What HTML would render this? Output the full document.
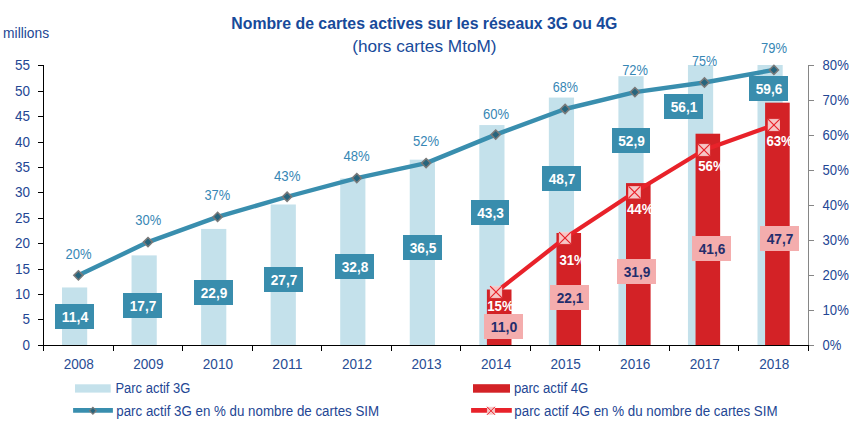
<!DOCTYPE html><html><head><meta charset="utf-8"><style>
html,body{margin:0;padding:0;background:#fff;width:867px;height:427px;overflow:hidden}
svg{display:block;font-family:"Liberation Sans",sans-serif}
</style></head><body>
<svg width="867" height="427" viewBox="0 0 867 427">
<rect width="867" height="427" fill="#fff"/>
<text x="231.3" y="29" font-weight="bold" font-size="16.2" fill="#174a9a" textLength="386.1" lengthAdjust="spacingAndGlyphs">Nombre de cartes actives sur les réseaux 3G ou 4G</text>
<text x="352.2" y="52" font-size="16.4" fill="#174a9a" textLength="144.4" lengthAdjust="spacingAndGlyphs">(hors cartes MtoM)</text>
<text x="3.1" y="38" font-size="14" fill="#234694" textLength="46" lengthAdjust="spacingAndGlyphs">millions</text>
<rect x="62.00" y="287.46" width="25.2" height="58.04" fill="#c4e1eb"/>
<rect x="131.55" y="255.39" width="25.2" height="90.11" fill="#c4e1eb"/>
<rect x="201.10" y="228.92" width="25.2" height="116.58" fill="#c4e1eb"/>
<rect x="270.65" y="204.48" width="25.2" height="141.02" fill="#c4e1eb"/>
<rect x="340.20" y="178.52" width="25.2" height="166.98" fill="#c4e1eb"/>
<rect x="409.75" y="159.68" width="25.2" height="185.82" fill="#c4e1eb"/>
<rect x="479.30" y="125.06" width="25.2" height="220.44" fill="#c4e1eb"/>
<rect x="548.85" y="97.57" width="25.2" height="247.93" fill="#c4e1eb"/>
<rect x="618.40" y="76.19" width="25.2" height="269.31" fill="#c4e1eb"/>
<rect x="687.95" y="65.00" width="25.2" height="280.50" fill="#c4e1eb"/>
<rect x="757.50" y="65.00" width="25.2" height="280.50" fill="#c4e1eb"/>
<rect x="486.90" y="289.50" width="24.6" height="56.00" fill="#d32226"/>
<rect x="556.45" y="232.99" width="24.6" height="112.51" fill="#d32226"/>
<rect x="626.00" y="183.10" width="24.6" height="162.40" fill="#d32226"/>
<rect x="695.55" y="133.72" width="24.6" height="211.78" fill="#d32226"/>
<rect x="765.10" y="102.66" width="24.6" height="242.84" fill="#d32226"/>
<g shape-rendering="crispEdges">
<line x1="43.5" y1="65" x2="43.5" y2="351" stroke="#000" stroke-width="1"/>
<line x1="38" y1="65.5" x2="43" y2="65.5" stroke="#000" stroke-width="1"/>
<line x1="38" y1="91.5" x2="43" y2="91.5" stroke="#000" stroke-width="1"/>
<line x1="38" y1="116.5" x2="43" y2="116.5" stroke="#000" stroke-width="1"/>
<line x1="38" y1="142.5" x2="43" y2="142.5" stroke="#000" stroke-width="1"/>
<line x1="38" y1="167.5" x2="43" y2="167.5" stroke="#000" stroke-width="1"/>
<line x1="38" y1="192.5" x2="43" y2="192.5" stroke="#000" stroke-width="1"/>
<line x1="38" y1="218.5" x2="43" y2="218.5" stroke="#000" stroke-width="1"/>
<line x1="38" y1="243.5" x2="43" y2="243.5" stroke="#000" stroke-width="1"/>
<line x1="38" y1="269.5" x2="43" y2="269.5" stroke="#000" stroke-width="1"/>
<line x1="38" y1="294.5" x2="43" y2="294.5" stroke="#000" stroke-width="1"/>
<line x1="38" y1="319.5" x2="43" y2="319.5" stroke="#000" stroke-width="1"/>
<line x1="38" y1="345.5" x2="43" y2="345.5" stroke="#000" stroke-width="1"/>
<line x1="808.5" y1="65" x2="808.5" y2="345" stroke="#868686" stroke-width="1"/>
<line x1="809" y1="65.5" x2="814" y2="65.5" stroke="#868686" stroke-width="1"/>
<line x1="809" y1="100.5" x2="814" y2="100.5" stroke="#868686" stroke-width="1"/>
<line x1="809" y1="135.5" x2="814" y2="135.5" stroke="#868686" stroke-width="1"/>
<line x1="809" y1="170.5" x2="814" y2="170.5" stroke="#868686" stroke-width="1"/>
<line x1="809" y1="205.5" x2="814" y2="205.5" stroke="#868686" stroke-width="1"/>
<line x1="809" y1="240.5" x2="814" y2="240.5" stroke="#868686" stroke-width="1"/>
<line x1="809" y1="275.5" x2="814" y2="275.5" stroke="#868686" stroke-width="1"/>
<line x1="809" y1="310.5" x2="814" y2="310.5" stroke="#868686" stroke-width="1"/>
<line x1="809" y1="345.5" x2="814" y2="345.5" stroke="#868686" stroke-width="1"/>
<line x1="38" y1="345.5" x2="809" y2="345.5" stroke="#000" stroke-width="1"/>
<line x1="43.5" y1="345" x2="43.5" y2="351" stroke="#000" stroke-width="1"/>
<line x1="113.5" y1="345" x2="113.5" y2="351" stroke="#000" stroke-width="1"/>
<line x1="182.5" y1="345" x2="182.5" y2="351" stroke="#000" stroke-width="1"/>
<line x1="252.5" y1="345" x2="252.5" y2="351" stroke="#000" stroke-width="1"/>
<line x1="321.5" y1="345" x2="321.5" y2="351" stroke="#000" stroke-width="1"/>
<line x1="391.5" y1="345" x2="391.5" y2="351" stroke="#000" stroke-width="1"/>
<line x1="460.5" y1="345" x2="460.5" y2="351" stroke="#000" stroke-width="1"/>
<line x1="530.5" y1="345" x2="530.5" y2="351" stroke="#000" stroke-width="1"/>
<line x1="599.5" y1="345" x2="599.5" y2="351" stroke="#000" stroke-width="1"/>
<line x1="669.5" y1="345" x2="669.5" y2="351" stroke="#000" stroke-width="1"/>
<line x1="738.5" y1="345" x2="738.5" y2="351" stroke="#000" stroke-width="1"/>
<line x1="808.5" y1="345" x2="808.5" y2="351" stroke="#000" stroke-width="1"/>
</g>
<text x="29.9" y="69.80" text-anchor="end" font-size="14.0" fill="#234694" textLength="15.0" lengthAdjust="spacingAndGlyphs">55</text>
<text x="29.9" y="95.80" text-anchor="end" font-size="14.0" fill="#234694" textLength="15.0" lengthAdjust="spacingAndGlyphs">50</text>
<text x="29.9" y="120.80" text-anchor="end" font-size="14.0" fill="#234694" textLength="15.0" lengthAdjust="spacingAndGlyphs">45</text>
<text x="29.9" y="146.80" text-anchor="end" font-size="14.0" fill="#234694" textLength="15.0" lengthAdjust="spacingAndGlyphs">40</text>
<text x="29.9" y="171.80" text-anchor="end" font-size="14.0" fill="#234694" textLength="15.0" lengthAdjust="spacingAndGlyphs">35</text>
<text x="29.9" y="196.80" text-anchor="end" font-size="14.0" fill="#234694" textLength="15.0" lengthAdjust="spacingAndGlyphs">30</text>
<text x="29.9" y="222.80" text-anchor="end" font-size="14.0" fill="#234694" textLength="15.0" lengthAdjust="spacingAndGlyphs">25</text>
<text x="29.9" y="247.80" text-anchor="end" font-size="14.0" fill="#234694" textLength="15.0" lengthAdjust="spacingAndGlyphs">20</text>
<text x="29.9" y="273.80" text-anchor="end" font-size="14.0" fill="#234694" textLength="15.0" lengthAdjust="spacingAndGlyphs">15</text>
<text x="29.9" y="298.80" text-anchor="end" font-size="14.0" fill="#234694" textLength="15.0" lengthAdjust="spacingAndGlyphs">10</text>
<text x="29.9" y="323.80" text-anchor="end" font-size="14.0" fill="#234694" textLength="7.5" lengthAdjust="spacingAndGlyphs">5</text>
<text x="29.9" y="349.80" text-anchor="end" font-size="14.0" fill="#234694" textLength="7.5" lengthAdjust="spacingAndGlyphs">0</text>
<text x="822.6" y="69.80" font-size="14.0" fill="#234694" textLength="26.2" lengthAdjust="spacingAndGlyphs">80%</text>
<text x="822.6" y="104.80" font-size="14.0" fill="#234694" textLength="26.2" lengthAdjust="spacingAndGlyphs">70%</text>
<text x="822.6" y="139.80" font-size="14.0" fill="#234694" textLength="26.2" lengthAdjust="spacingAndGlyphs">60%</text>
<text x="822.6" y="174.80" font-size="14.0" fill="#234694" textLength="26.2" lengthAdjust="spacingAndGlyphs">50%</text>
<text x="822.6" y="209.80" font-size="14.0" fill="#234694" textLength="26.2" lengthAdjust="spacingAndGlyphs">40%</text>
<text x="822.6" y="244.80" font-size="14.0" fill="#234694" textLength="26.2" lengthAdjust="spacingAndGlyphs">30%</text>
<text x="822.6" y="279.80" font-size="14.0" fill="#234694" textLength="26.2" lengthAdjust="spacingAndGlyphs">20%</text>
<text x="822.6" y="314.80" font-size="14.0" fill="#234694" textLength="26.2" lengthAdjust="spacingAndGlyphs">10%</text>
<text x="822.6" y="349.80" font-size="14.0" fill="#234694" textLength="18.8" lengthAdjust="spacingAndGlyphs">0%</text>
<text x="78.80" y="369.3" text-anchor="middle" font-size="14.0" fill="#284d94" textLength="30.2" lengthAdjust="spacingAndGlyphs">2008</text>
<text x="148.35" y="369.3" text-anchor="middle" font-size="14.0" fill="#284d94" textLength="30.2" lengthAdjust="spacingAndGlyphs">2009</text>
<text x="217.90" y="369.3" text-anchor="middle" font-size="14.0" fill="#284d94" textLength="30.2" lengthAdjust="spacingAndGlyphs">2010</text>
<text x="287.45" y="369.3" text-anchor="middle" font-size="14.0" fill="#284d94" textLength="30.2" lengthAdjust="spacingAndGlyphs">2011</text>
<text x="357.00" y="369.3" text-anchor="middle" font-size="14.0" fill="#284d94" textLength="30.2" lengthAdjust="spacingAndGlyphs">2012</text>
<text x="426.55" y="369.3" text-anchor="middle" font-size="14.0" fill="#284d94" textLength="30.2" lengthAdjust="spacingAndGlyphs">2013</text>
<text x="496.10" y="369.3" text-anchor="middle" font-size="14.0" fill="#284d94" textLength="30.2" lengthAdjust="spacingAndGlyphs">2014</text>
<text x="565.65" y="369.3" text-anchor="middle" font-size="14.0" fill="#284d94" textLength="30.2" lengthAdjust="spacingAndGlyphs">2015</text>
<text x="635.20" y="369.3" text-anchor="middle" font-size="14.0" fill="#284d94" textLength="30.2" lengthAdjust="spacingAndGlyphs">2016</text>
<text x="704.75" y="369.3" text-anchor="middle" font-size="14.0" fill="#284d94" textLength="30.2" lengthAdjust="spacingAndGlyphs">2017</text>
<text x="774.30" y="369.3" text-anchor="middle" font-size="14.0" fill="#284d94" textLength="30.2" lengthAdjust="spacingAndGlyphs">2018</text>
<polyline points="78.40,275.35 148.00,242.10 217.60,216.90 287.10,196.75 356.80,178.10 426.10,163.10 495.70,134.60 565.10,109.00 634.90,92.10 704.45,82.50 773.90,69.90" fill="none" stroke="#398eae" stroke-width="4.4" stroke-linejoin="round"/>
<path d="M78.40,270.75 l4.6,4.6 l-4.6,4.6 l-4.6,-4.6 z" fill="#27657d" stroke="#7a7a7a" stroke-width="1.5"/>
<path d="M148.00,237.50 l4.6,4.6 l-4.6,4.6 l-4.6,-4.6 z" fill="#27657d" stroke="#7a7a7a" stroke-width="1.5"/>
<path d="M217.60,212.30 l4.6,4.6 l-4.6,4.6 l-4.6,-4.6 z" fill="#27657d" stroke="#7a7a7a" stroke-width="1.5"/>
<path d="M287.10,192.15 l4.6,4.6 l-4.6,4.6 l-4.6,-4.6 z" fill="#27657d" stroke="#7a7a7a" stroke-width="1.5"/>
<path d="M356.80,173.50 l4.6,4.6 l-4.6,4.6 l-4.6,-4.6 z" fill="#27657d" stroke="#7a7a7a" stroke-width="1.5"/>
<path d="M426.10,158.50 l4.6,4.6 l-4.6,4.6 l-4.6,-4.6 z" fill="#27657d" stroke="#7a7a7a" stroke-width="1.5"/>
<path d="M495.70,130.00 l4.6,4.6 l-4.6,4.6 l-4.6,-4.6 z" fill="#27657d" stroke="#7a7a7a" stroke-width="1.5"/>
<path d="M565.10,104.40 l4.6,4.6 l-4.6,4.6 l-4.6,-4.6 z" fill="#27657d" stroke="#7a7a7a" stroke-width="1.5"/>
<path d="M634.90,87.50 l4.6,4.6 l-4.6,4.6 l-4.6,-4.6 z" fill="#27657d" stroke="#7a7a7a" stroke-width="1.5"/>
<path d="M704.45,77.90 l4.6,4.6 l-4.6,4.6 l-4.6,-4.6 z" fill="#27657d" stroke="#7a7a7a" stroke-width="1.5"/>
<path d="M773.90,65.30 l4.6,4.6 l-4.6,4.6 l-4.6,-4.6 z" fill="#27657d" stroke="#7a7a7a" stroke-width="1.5"/>
<polyline points="496.00,292.00 565.00,238.00 634.50,192.30 704.00,150.00 773.90,125.00" fill="none" stroke="#e8222a" stroke-width="4.2" stroke-linejoin="round"/>
<g transform="translate(496.00,292.00)"><rect x="-5.8" y="-5.8" width="11.6" height="11.6" fill="#f6c6c6" stroke="#f9d6d6" stroke-width="0.6"/><path d="M-5.9,-5.9 L5.9,5.9 M5.9,-5.9 L-5.9,5.9" stroke="#e8222a" stroke-width="1.2"/></g>
<g transform="translate(565.00,238.00)"><rect x="-5.8" y="-5.8" width="11.6" height="11.6" fill="#f6c6c6" stroke="#f9d6d6" stroke-width="0.6"/><path d="M-5.9,-5.9 L5.9,5.9 M5.9,-5.9 L-5.9,5.9" stroke="#e8222a" stroke-width="1.2"/></g>
<g transform="translate(634.50,192.30)"><rect x="-5.8" y="-5.8" width="11.6" height="11.6" fill="#f6c6c6" stroke="#f9d6d6" stroke-width="0.6"/><path d="M-5.9,-5.9 L5.9,5.9 M5.9,-5.9 L-5.9,5.9" stroke="#e8222a" stroke-width="1.2"/></g>
<g transform="translate(704.00,150.00)"><rect x="-5.8" y="-5.8" width="11.6" height="11.6" fill="#f6c6c6" stroke="#f9d6d6" stroke-width="0.6"/><path d="M-5.9,-5.9 L5.9,5.9 M5.9,-5.9 L-5.9,5.9" stroke="#e8222a" stroke-width="1.2"/></g>
<g transform="translate(773.90,125.00)"><rect x="-5.8" y="-5.8" width="11.6" height="11.6" fill="#f6c6c6" stroke="#f9d6d6" stroke-width="0.6"/><path d="M-5.9,-5.9 L5.9,5.9 M5.9,-5.9 L-5.9,5.9" stroke="#e8222a" stroke-width="1.2"/></g>
<text x="65.60" y="259.00" font-size="14.0" fill="#3787b5" textLength="26.0" lengthAdjust="spacingAndGlyphs">20%</text>
<text x="135.30" y="224.80" font-size="14.0" fill="#3787b5" textLength="25.9" lengthAdjust="spacingAndGlyphs">30%</text>
<text x="204.40" y="200.20" font-size="14.0" fill="#3787b5" textLength="25.8" lengthAdjust="spacingAndGlyphs">37%</text>
<text x="274.00" y="180.50" font-size="14.0" fill="#3787b5" textLength="26.5" lengthAdjust="spacingAndGlyphs">43%</text>
<text x="343.50" y="160.90" font-size="14.0" fill="#3787b5" textLength="26.3" lengthAdjust="spacingAndGlyphs">48%</text>
<text x="413.10" y="146.10" font-size="14.0" fill="#3787b5" textLength="26.1" lengthAdjust="spacingAndGlyphs">52%</text>
<text x="482.90" y="118.50" font-size="14.0" fill="#3787b5" textLength="26.1" lengthAdjust="spacingAndGlyphs">60%</text>
<text x="552.80" y="91.50" font-size="14.0" fill="#3787b5" textLength="25.2" lengthAdjust="spacingAndGlyphs">68%</text>
<text x="622.20" y="74.50" font-size="14.0" fill="#3787b5" textLength="25.8" lengthAdjust="spacingAndGlyphs">72%</text>
<text x="692.10" y="65.80" font-size="14.0" fill="#3787b5" textLength="25.0" lengthAdjust="spacingAndGlyphs">75%</text>
<text x="761.10" y="52.70" font-size="14.0" fill="#3787b5" textLength="26.0" lengthAdjust="spacingAndGlyphs">79%</text>
<text x="487.20" y="310.70" font-size="14.2" font-weight="bold" fill="#fff" textLength="26.5" lengthAdjust="spacingAndGlyphs">15%</text>
<text x="559.40" y="264.80" font-size="14.2" font-weight="bold" fill="#fff" textLength="26.5" lengthAdjust="spacingAndGlyphs">31%</text>
<text x="627.00" y="214.10" font-size="14.2" font-weight="bold" fill="#fff" textLength="26.5" lengthAdjust="spacingAndGlyphs">44%</text>
<text x="698.20" y="171.20" font-size="14.2" font-weight="bold" fill="#fff" textLength="26.5" lengthAdjust="spacingAndGlyphs">56%</text>
<text x="766.40" y="145.50" font-size="14.2" font-weight="bold" fill="#fff" textLength="26.5" lengthAdjust="spacingAndGlyphs">63%</text>
<rect x="55.0" y="304.0" width="39.0" height="25.0" fill="#398dad"/>
<text x="75.00" y="321.60" text-anchor="middle" font-size="14.2" font-weight="bold" fill="#fff" textLength="26.6" lengthAdjust="spacingAndGlyphs">11,4</text>
<rect x="123.0" y="293.0" width="39.0" height="25.0" fill="#398dad"/>
<text x="143.00" y="310.60" text-anchor="middle" font-size="14.2" font-weight="bold" fill="#fff" textLength="26.6" lengthAdjust="spacingAndGlyphs">17,7</text>
<rect x="194.0" y="280.0" width="39.0" height="25.0" fill="#398dad"/>
<text x="214.00" y="297.60" text-anchor="middle" font-size="14.2" font-weight="bold" fill="#fff" textLength="26.6" lengthAdjust="spacingAndGlyphs">22,9</text>
<rect x="264.0" y="267.0" width="39.0" height="25.0" fill="#398dad"/>
<text x="284.00" y="284.60" text-anchor="middle" font-size="14.2" font-weight="bold" fill="#fff" textLength="26.6" lengthAdjust="spacingAndGlyphs">27,7</text>
<rect x="335.0" y="254.0" width="39.0" height="25.0" fill="#398dad"/>
<text x="355.00" y="271.60" text-anchor="middle" font-size="14.2" font-weight="bold" fill="#fff" textLength="26.6" lengthAdjust="spacingAndGlyphs">32,8</text>
<rect x="403.0" y="235.0" width="39.0" height="25.0" fill="#398dad"/>
<text x="423.00" y="252.60" text-anchor="middle" font-size="14.2" font-weight="bold" fill="#fff" textLength="26.6" lengthAdjust="spacingAndGlyphs">36,5</text>
<rect x="471.0" y="200.0" width="38.0" height="25.0" fill="#398dad"/>
<text x="490.50" y="217.60" text-anchor="middle" font-size="14.2" font-weight="bold" fill="#fff" textLength="26.6" lengthAdjust="spacingAndGlyphs">43,3</text>
<rect x="542.0" y="166.0" width="39.0" height="25.0" fill="#398dad"/>
<text x="562.00" y="183.60" text-anchor="middle" font-size="14.2" font-weight="bold" fill="#fff" textLength="26.6" lengthAdjust="spacingAndGlyphs">48,7</text>
<rect x="612.0" y="128.0" width="38.0" height="25.0" fill="#398dad"/>
<text x="631.50" y="145.60" text-anchor="middle" font-size="14.2" font-weight="bold" fill="#fff" textLength="26.6" lengthAdjust="spacingAndGlyphs">52,9</text>
<rect x="664.0" y="94.0" width="39.0" height="25.0" fill="#398dad"/>
<text x="684.00" y="111.60" text-anchor="middle" font-size="14.2" font-weight="bold" fill="#fff" textLength="26.6" lengthAdjust="spacingAndGlyphs">56,1</text>
<rect x="749.0" y="76.0" width="39.0" height="25.0" fill="#398dad"/>
<text x="769.00" y="93.60" text-anchor="middle" font-size="14.2" font-weight="bold" fill="#fff" textLength="26.6" lengthAdjust="spacingAndGlyphs">59,6</text>
<rect x="484.0" y="314.0" width="39.0" height="25.0" fill="#f4adad"/>
<text x="504.00" y="331.60" text-anchor="middle" font-size="14.2" font-weight="bold" fill="#232d6c" textLength="26.6" lengthAdjust="spacingAndGlyphs">11,0</text>
<rect x="550.0" y="285.0" width="39.0" height="25.0" fill="#f4adad"/>
<text x="570.00" y="302.60" text-anchor="middle" font-size="14.2" font-weight="bold" fill="#232d6c" textLength="26.6" lengthAdjust="spacingAndGlyphs">22,1</text>
<rect x="617.0" y="259.0" width="39.0" height="25.0" fill="#f4adad"/>
<text x="637.00" y="276.60" text-anchor="middle" font-size="14.2" font-weight="bold" fill="#232d6c" textLength="26.6" lengthAdjust="spacingAndGlyphs">31,9</text>
<rect x="692.0" y="236.0" width="39.0" height="25.0" fill="#f4adad"/>
<text x="712.00" y="253.60" text-anchor="middle" font-size="14.2" font-weight="bold" fill="#232d6c" textLength="26.6" lengthAdjust="spacingAndGlyphs">41,6</text>
<rect x="760.0" y="226.0" width="39.0" height="25.0" fill="#f4adad"/>
<text x="780.00" y="243.60" text-anchor="middle" font-size="14.2" font-weight="bold" fill="#232d6c" textLength="26.6" lengthAdjust="spacingAndGlyphs">47,7</text>
<rect x="75" y="384.3" width="35.7" height="8.3" fill="#c4e1eb"/>
<text x="115.4" y="393" font-size="14.0" fill="#234694" textLength="75" lengthAdjust="spacingAndGlyphs">Parc actif 3G</text>
<line x1="73.1" y1="410.4" x2="112.9" y2="410.4" stroke="#398eae" stroke-width="4.8"/>
<path d="M92.9,407.3 l3.4,3.4 l-3.4,3.4 l-3.4,-3.4 z" fill="#27657d" stroke="#7a7a7a" stroke-width="1.2"/>
<text x="116.3" y="415.5" font-size="14.0" fill="#234694" textLength="262.8" lengthAdjust="spacingAndGlyphs">parc actif 3G en % du nombre de cartes SIM</text>
<rect x="473" y="384.2" width="37" height="8.5" fill="#d32226"/>
<text x="513.9" y="393" font-size="14.0" fill="#234694" textLength="74.4" lengthAdjust="spacingAndGlyphs">parc actif 4G</text>
<line x1="471.1" y1="410.4" x2="511.8" y2="410.4" stroke="#e8222a" stroke-width="4.7"/>
<g transform="translate(491,410.8)"><rect x="-3.8" y="-3.8" width="7.6" height="7.6" fill="#f6c6c6" stroke="#f9d6d6" stroke-width="0.5"/><path d="M-4,-4 L4,4 M4,-4 L-4,4" stroke="#e8222a" stroke-width="1"/></g>
<text x="514.3" y="415.5" font-size="14.0" fill="#234694" textLength="263.3" lengthAdjust="spacingAndGlyphs">parc actif 4G en % du nombre de cartes SIM</text>
</svg></body></html>
